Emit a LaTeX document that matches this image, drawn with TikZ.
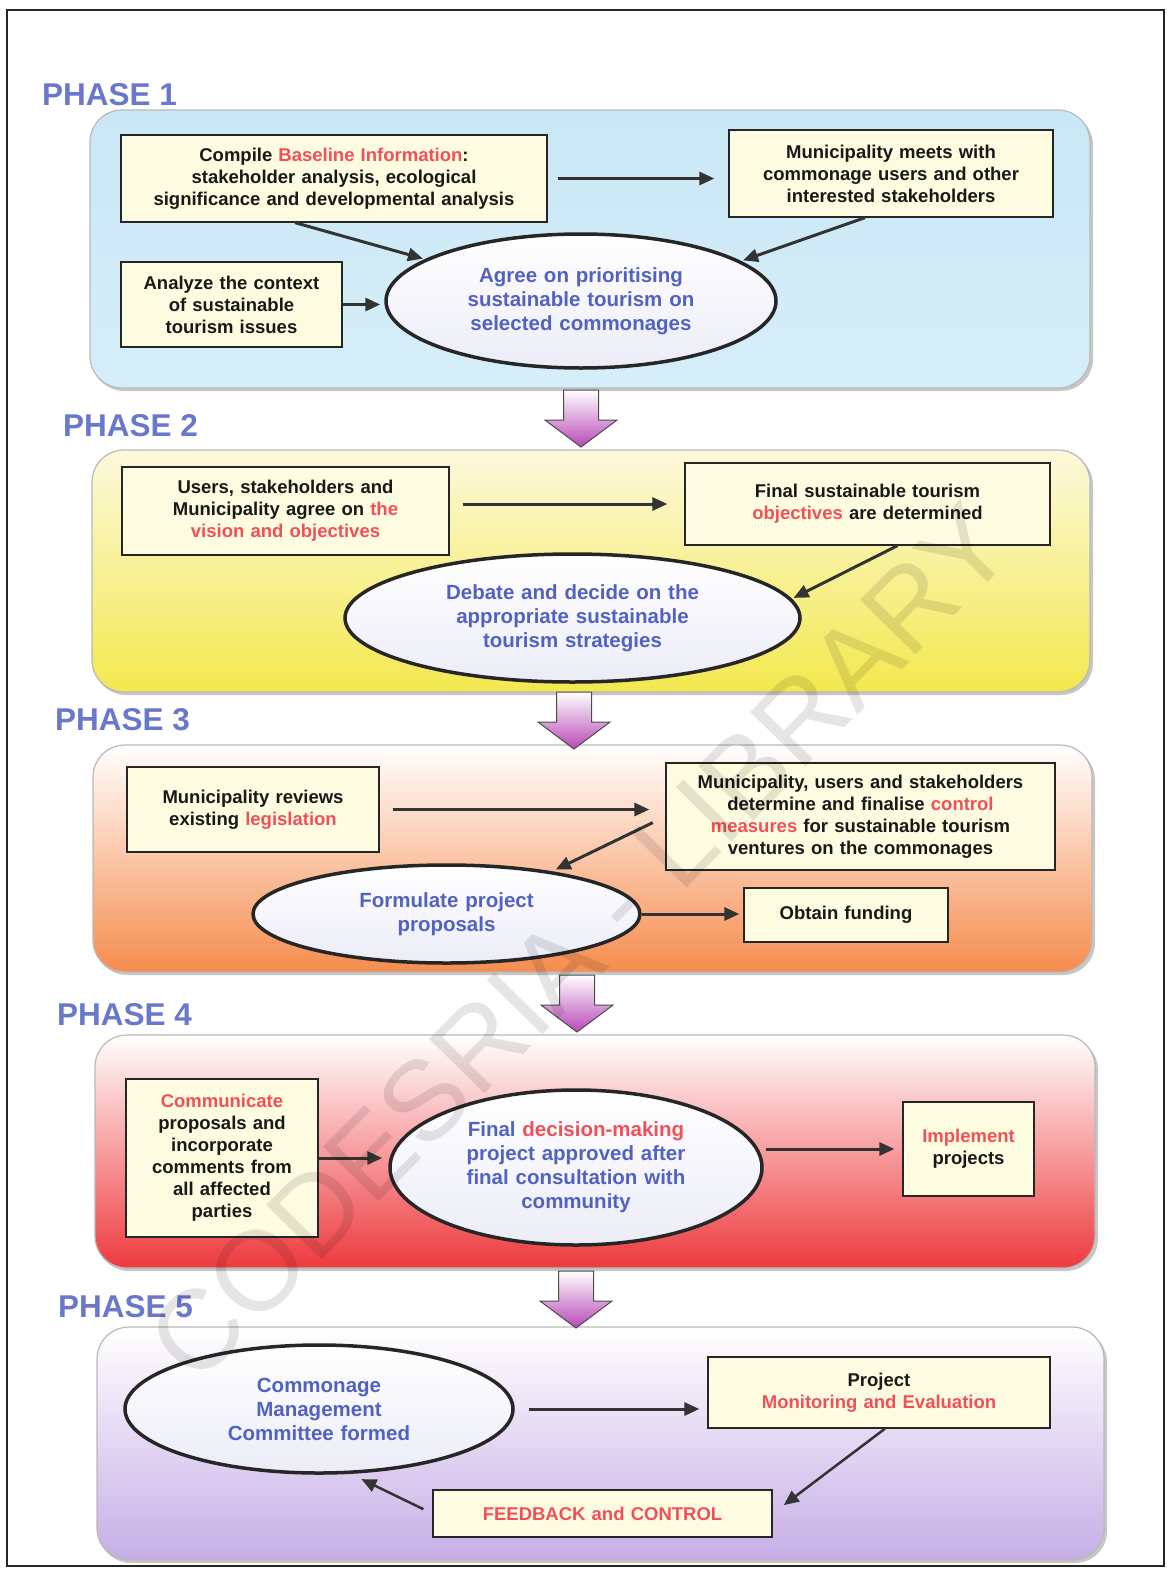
\documentclass[tikz,border=0pt]{standalone}
\usepackage{fontspec}
\setmainfont{Liberation Sans}
\usepackage{xcolor}
\usepackage{tikz}
\usetikzlibrary{arrows.meta,shapes.geometric}

\definecolor{phaseblue}{HTML}{6A78CC}
\definecolor{ovaltext}{HTML}{5262C0}
\definecolor{keyred}{HTML}{F0505A}
\definecolor{boxfill}{HTML}{FDFCE0}
\definecolor{ovalshade}{HTML}{ECECF8}
\definecolor{arrowviolet}{HTML}{B848B8}

\newcommand{\kw}[1]{\textcolor{keyred}{#1}}
\newcommand{\phasedown}[2]{%
  \shade[top color=white, bottom color=arrowviolet, draw=black!70, line width=1pt]
    (#1-17.5,#2) -- (#1+17.5,#2) -- (#1+17.5,#2+30) -- (#1+36,#2+30) -- (#1,#2+57)
    -- (#1-36,#2+30) -- (#1-17.5,#2+30) -- cycle;}

\tikzset{
  panel/.style={draw=gray!55, line width=1.2pt, rounded corners=32pt},
  panelshadow/.style={fill=black!22, rounded corners=32pt},
  stepbox/.style 2 args={draw=black!85, line width=1.3pt, fill=boxfill, align=center,
    inner xsep=0pt, inner ysep=3pt, text width=#1, minimum height=#2, text=black!90,
    font=\bfseries\fontsize{18.5}{22}\selectfont},
  oval/.style 2 args={ellipse, draw=black!85, line width=3.5pt, top color=white,
    bottom color=ovalshade, inner sep=0pt, align=center, text width=235pt,
    minimum width=#1, minimum height=#2, text=ovaltext,
    font=\bfseries\fontsize{20.5}{24}\selectfont},
  flow/.style={draw=black!80, line width=3pt, -{Triangle[length=15pt,width=13pt]}},
  phaselabel/.style={anchor=west, inner sep=0pt, text=phaseblue,
    font=\bfseries\fontsize{31.5}{36}\selectfont}
}

\begin{document}
\begin{tikzpicture}[x=1pt, y=-1pt]
  \fill[white] (0,0) rectangle (1170,1569);
  \useasboundingbox (0,0) rectangle (1170,1569);
  \draw[line width=2.5pt, black!85] (7,10) rectangle (1164,1566);

  \fill[panelshadow] (92,113) rectangle (1093,391);
  \shade[panel, top color={rgb,255:red,202;green,231;blue,245}, bottom color={rgb,255:red,214;green,238;blue,249}] (90,110) rectangle (1090,388);
  \fill[panelshadow] (94,453) rectangle (1093,695);
  \shade[panel, top color={rgb,255:red,252;green,249;blue,220}, middle color={rgb,255:red,248;green,240;blue,122}, bottom color={rgb,255:red,243;green,232;blue,78}] (92,450) rectangle (1090,692);
  \fill[panelshadow] (95,748) rectangle (1095,975);
  \shade[panel, top color=white, middle color={rgb,255:red,253;green,232;blue,220}, bottom color={rgb,255:red,246;green,140;blue,78}] (93,745) rectangle (1092,972);
  \fill[panelshadow] (97,1038) rectangle (1098,1271);
  \shade[panel, top color=white, middle color={rgb,255:red,252;green,228;blue,230}, bottom color={rgb,255:red,238;green,58;blue,62}] (95,1035) rectangle (1095,1268);
  \fill[panelshadow] (99,1330) rectangle (1107,1563);
  \shade[panel, top color=white, middle color={rgb,255:red,238;green,232;blue,248}, bottom color={rgb,255:red,198;green,174;blue,230}] (97,1327) rectangle (1104,1560);

  \phasedown{581}{390}
  \phasedown{574}{692}
  \phasedown{577}{975}
  \phasedown{576}{1271}

  \node[phaselabel] (ph1) at (42,95) {PHASE 1};
  \node[phaselabel] (ph2) at (63,426) {PHASE 2};
  \node[phaselabel] (ph3) at (55,720) {PHASE 3};
  \node[phaselabel] (ph4) at (57,1015) {PHASE 4};
  \node[phaselabel] (ph5) at (58,1307) {PHASE 5};

  \node[stepbox={426pt}{87pt}] (base) at (334,178.5) {Compile \kw{Baseline Information}:\\ stakeholder analysis, ecological\\ significance and developmental analysis};
  \node[stepbox={324pt}{87pt}] (meet) at (891,173.5) {Municipality meets with\\ commonage users and other\\ interested stakeholders};
  \node[stepbox={221pt}{85pt}] (context) at (231.5,304.5) {Analyze the context\\ of sustainable\\ tourism issues};
  \node[oval={390pt}{134pt}] (agree) at (581,301) {Agree on prioritising\\ sustainable tourism on\\ selected commonages};
  \draw[flow, shorten <=10pt, shorten >=14pt] (base.east) -- (base.east -| meet.west);
  \draw[flow, shorten >=2pt] ([xshift=-39pt]base.south) -- (agree.165);
  \draw[flow, shorten >=2pt] ([xshift=-26pt]meet.south) -- (agree.14);
  \draw[flow, shorten >=4pt] (context.east) -- (context.east -| agree.west);

  \node[stepbox={327pt}{88pt}] (vision) at (285.5,511) {Users, stakeholders and\\ Municipality agree on \kw{the}\\ \kw{vision and objectives}};
  \node[stepbox={365pt}{82pt}] (finalobj) at (867.5,504) {Final sustainable tourism\\ \kw{objectives} are determined};
  \node[oval={455pt}{128pt}, text width=300pt] (debate) at (572.5,618) {Debate and decide on the\\ appropriate sustainable\\ tourism strategies};
  \draw[flow, shorten <=13pt, shorten >=17pt] (vision.east |- finalobj.west) -- (finalobj.west);
  \draw[flow, shorten >=2pt] ([xshift=30pt]finalobj.south) -- (debate.5);

  \node[stepbox={252pt}{85pt}] (legis) at (253,809.5) {Municipality reviews\\ existing \kw{legislation}};
  \node[stepbox={389pt}{107pt}] (control) at (860.5,816.5) {Municipality, users and stakeholders\\ determine and finalise \kw{control}\\ \kw{measures} for sustainable tourism\\ ventures on the commonages};
  \node[oval={387pt}{98pt}] (formulate) at (446.5,914) {Formulate project\\ proposals};
  \node[stepbox={204pt}{54pt}] (funding) at (846,915) {Obtain funding};
  \draw[flow, shorten <=13pt, shorten >=16pt] (legis.east) -- (legis.east -| control.west);
  \draw[flow, shorten <=14pt, shorten >=4pt] (control.west) -- (formulate.22);
  \draw[flow, shorten >=4pt] (formulate.east) -- (formulate.east -| funding.west);

  \node[stepbox={192pt}{158pt}] (communicate) at (222,1158) {\kw{Communicate}\\ proposals and\\ incorporate\\ comments from\\ all affected\\ parties};
  \node[oval={372pt}{155pt}] (decision) at (576,1167.5) {Final \kw{decision-making}\\ project approved after\\ final consultation with\\ community};
  \node[stepbox={131pt}{94pt}] (implement) at (968.5,1149) {\kw{Implement}\\ projects};
  \draw[flow, shorten >=6pt] (communicate.east) -- (communicate.east -| decision.west);
  \draw[flow, shorten <=2pt, shorten >=8pt] (decision.east |- implement.west) -- (implement.west);

  \node[oval={388pt}{128pt}] (committee) at (319,1409) {Commonage\\ Management\\ Committee formed};
  \node[stepbox={342pt}{71pt}] (monitor) at (879,1392.5) {Project\\ \kw{Monitoring and Evaluation}};
  \node[stepbox={339pt}{47pt}] (feedback) at (602.5,1513.5) {\kw{FEEDBACK and CONTROL}};
  \draw[flow, shorten <=14pt, shorten >=8pt] (committee.east) -- (committee.east -| monitor.west);
  \draw[flow, line width=2.5pt, shorten >=14pt] ([xshift=6pt]monitor.south) -- (feedback.east);
  \draw[flow, line width=2.5pt, shorten <=10pt, shorten >=12pt] (feedback.west) -- (committee.-64);

  \node[rotate=45.5, inner sep=0pt, text=black, text opacity=0.1, font=\fontsize{113}{113}\selectfont] (mark) at (580,942) {CODESRIA - LIBRARY};
\end{tikzpicture}
\end{document}
